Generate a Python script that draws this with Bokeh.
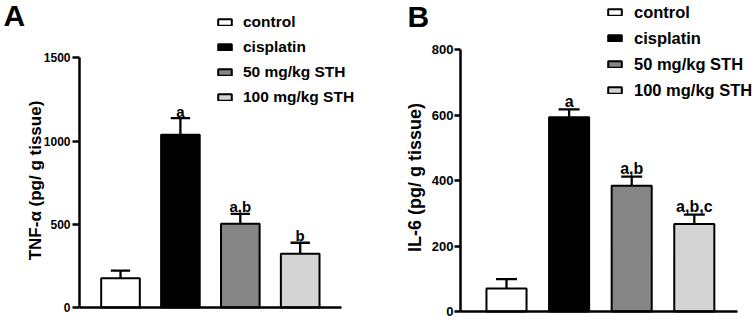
from bokeh.plotting import figure
from bokeh.layouts import row
from bokeh.models import FixedTicker, Legend, LegendItem, Label, ColumnDataSource, Range1d
from bokeh.core.properties import value
from bokeh.embed import file_html
from bokeh.resources import INLINE

groups = ["control", "cisplatin", "50 mg/kg STH", "100 mg/kg STH"]
colors = ["#ffffff", "#000000", "#858585", "#d4d4d4"]

tnf_mean = [176, 1037, 503, 323]
tnf_err = [46, 100, 60, 66]
tnf_sig = ["", "a", "a,b", "b"]
tnf_ticks = [0, 500, 1000, 1500]

il6_mean = [70, 593, 384, 267]
il6_err = [29, 24, 28, 29]
il6_sig = ["", "a", "a,b", "a,b,c"]
il6_ticks = [0, 200, 400, 600, 800]

FONT = "Liberation Sans"


def panel(letter, ylabel, means, errs, sig, ticks, width, height,
          first_px, step_px, base_px, px_per_unit, axis_px, xaxis_end_px,
          bar_w, cap, leg_x, leg_y, leg_spacing, leg_standoff, sig_off,
          letter_px, title_px, fs_leg, fs_sig, fs_tick, fs_title,
          tick_out, tick_standoff):
    # pixel -> data helpers (whole figure is the frame)
    def dx(px):
        return 1 + (px - first_px) / step_px

    def dy(py):
        return (base_px - py) / px_per_unit

    xs = list(range(1, len(means) + 1))
    tops = [m + e for m, e in zip(means, errs)]
    src = ColumnDataSource(dict(x=xs, top=means, err=tops, color=colors,
                                name=groups, sig=sig))
    p = figure(width=width, height=height, output_backend="svg",
               toolbar_location=None,
               x_range=Range1d(dx(0), dx(width)),
               y_range=Range1d(dy(height), dy(0)),
               min_border_left=0, min_border_right=0, min_border_top=0,
               min_border_bottom=0, background_fill_color="white",
               border_fill_color="white")
    p.outline_line_color = None
    p.grid.visible = False

    bars = p.vbar(x="x", top="top", bottom=0, width=bar_w, source=src,
                  fill_color="color", line_color="black", line_width=2)
    p.segment(x0="x", y0="top", x1="x", y1="err", source=src,
              line_color="black", line_width=2.3)
    p.scatter(x="x", y="err", marker="dash", size=cap, source=src,
              line_color="black", line_width=2.3)
    p.text(x="x", y="err", text="sig", source=src, y_offset=-sig_off,
           text_align="center", text_baseline="alphabetic",
           text_font=value(FONT), text_font_style="bold",
           text_font_size=fs_sig, text_color="black")

    ya = p.yaxis[0]
    ya.fixed_location = dx(axis_px)
    ya.ticker = FixedTicker(ticks=ticks)
    ya.bounds = (ticks[0], ticks[-1])
    ya.axis_line_width = 2.5
    ya.axis_line_color = "black"
    ya.major_tick_line_width = 2.3
    ya.major_tick_line_color = "black"
    ya.major_tick_out = tick_out
    ya.major_tick_in = 0
    ya.minor_tick_line_color = None
    ya.major_label_standoff = tick_standoff
    ya.major_label_text_font = FONT
    ya.major_label_text_font_style = "bold"
    ya.major_label_text_font_size = fs_tick
    ya.major_label_text_color = "black"

    xa = p.xaxis[0]
    xa.fixed_location = 0
    xa.ticker = FixedTicker(ticks=[])
    xa.bounds = (dx(axis_px), dx(xaxis_end_px))
    xa.axis_line_width = 2.7
    xa.axis_line_color = "black"
    xa.major_tick_line_color = None
    xa.minor_tick_line_color = None
    xa.major_label_standoff = 0
    xa.major_label_text_font_size = "0px"

    items = [LegendItem(label=g, renderers=[bars], index=i)
             for i, g in enumerate(groups)]
    leg = Legend(items=items, location=(leg_x, leg_y), padding=0, margin=0,
                 spacing=leg_spacing, glyph_width=17, glyph_height=8,
                 label_height=20, label_standoff=leg_standoff,
                 label_text_font=FONT, label_text_font_style="bold",
                 label_text_font_size=fs_leg, label_text_color="black",
                 border_line_color=None, background_fill_alpha=0)
    p.add_layout(leg, "center")

    # y-axis title (rotated, reads bottom to top)
    p.add_layout(Label(x=dx(title_px[0]), y=dy(title_px[1]), text=ylabel,
                       angle=90, angle_units="deg", text_font=FONT,
                       text_font_style="bold", text_font_size=fs_title,
                       text_color="black", text_align="center",
                       text_baseline="middle"))
    # panel letter
    p.add_layout(Label(x=dx(letter_px[0]), y=dy(letter_px[1]),
                       text=letter, text_font=FONT, text_font_style="bold",
                       text_font_size="30px", text_color="black",
                       text_baseline="middle", text_align="left"))
    return p


pa = panel("A", "TNF-\u03b1 (pg/ g tissue)", tnf_mean, tnf_err, tnf_sig,
           tnf_ticks, 374, 319, 120, 59.9, 307, 0.16647, 79, 341,
           0.645, 19.3, 216, 212, 5, 10, 7, (3, 15), (35, 180),
           "15.5px", "15px", "12px", "17px", 7, 2)
pb = panel("B", "IL-6 (pg/ g tissue)", il6_mean, il6_err, il6_sig,
           il6_ticks, 380, 319, 132, 62.6, 311, 0.3275, 86, 362.7,
           0.64, 21, 232, 219, 6, 11, 8, (33, 16), (40, 177),
           "16.5px", "16px", "13px", "18px", 6, 1)

layout = row(pa, pb)
open("out.html", "w").write(file_html(layout, INLINE))
